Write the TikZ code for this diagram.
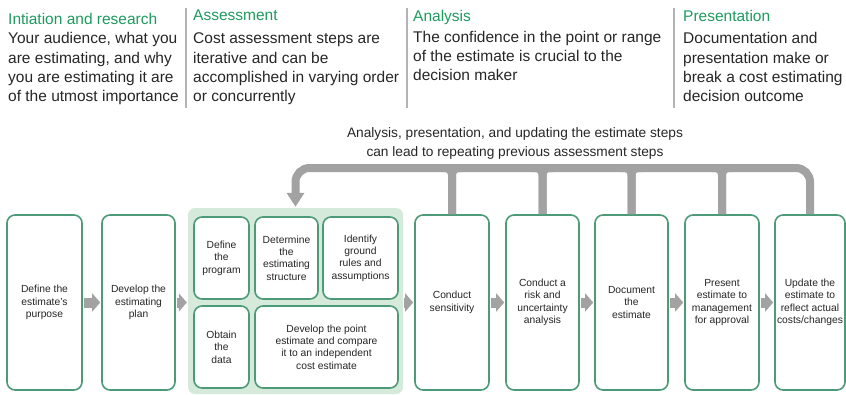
\documentclass[tikz,border=0pt]{standalone}
\usepackage{fontspec}
\setmainfont{Liberation Sans}
\usetikzlibrary{arrows.meta,calc}
\definecolor{hdgreen}{HTML}{1E9A5E}
\definecolor{boxgreen}{HTML}{4C9A78}
\definecolor{areagreen}{HTML}{D5EADB}
\definecolor{arrowgray}{HTML}{A2A2A2}
\definecolor{rulegray}{HTML}{B4B4B4}
\definecolor{ink}{HTML}{262626}
\begin{document}
\begin{tikzpicture}[x=1pt,y=-1pt,
  head/.style={anchor=north west, inner sep=0pt, text=hdgreen,
    font=\fontsize{15.5}{19.3}\selectfont},
  body/.style={anchor=north west, inner sep=0pt, text=ink, align=left,
    font=\fontsize{15.5}{19.3}\selectfont},
  note/.style={anchor=north, inner sep=0pt, text=ink, align=center,
    font=\fontsize{13.7}{19}\selectfont},
  stepbox/.style={draw=boxgreen, line width=1.6pt, rounded corners=8pt, fill=white,
    align=center, inner sep=0pt, text=ink, font=\fontsize{10.3}{12.4}\selectfont,
    minimum height=175pt},
  subbox/.style={stepbox, minimum height=82pt},
  area/.style={fill=areagreen, rounded corners=7pt, inner sep=0pt},
  flow/.style={draw=arrowgray, line width=10pt, shorten <=1pt, shorten >=1pt,
    -{Triangle[length=8pt,width=18pt]}},
  loopline/.style={draw=arrowgray, line width=8pt},
  divider/.style={draw=rulegray, line width=2pt}
]
\useasboundingbox (0,0) rectangle (846,394);

% column dividers
\draw[divider] (186,8) -- (186,108);
\draw[divider] (407,8) -- (407,108);
\draw[divider] (674,8) -- (674,108);

% phase headers and descriptions
\node[head] (h1) at (8,10.5) {\strut Intiation and research};
\node[body] (t1) at (8,30) {\strut Your audience, what you\\are estimating, and why\\you are estimating it are\\of the utmost importance};
\node[head] (h2) at (193,6.5) {\strut Assessment};
\node[body] (t2) at (193,30) {\strut Cost assessment steps are\\iterative and can be\\accomplished in varying order\\or concurrently};
\node[head] (h3) at (413,7.5) {\strut Analysis};
\node[body] (t3) at (413,28.5) {\strut The confidence in the point or range\\of the estimate is crucial to the\\decision maker};
\node[head] (h4) at (683,7.5) {\strut Presentation};
\node[body] (t4) at (683,30) {\strut Documentation and\\presentation make or\\break a cost estimating\\decision outcome};

\node[note] (fb) at (515,124) {\strut Analysis, presentation, and updating the estimate steps\\can lead to repeating previous assessment steps};

% process steps
\node[stepbox, minimum width=75pt] (b1) at (44.5,302.5) {Define the\\estimate's\\purpose};
\node[stepbox, minimum width=73pt] (b2) at (138.5,302.5) {Develop the\\estimating\\plan};

\node[area, minimum width=215pt, minimum height=186pt] (asmt) at (295.5,301) {};
\node[subbox, minimum width=55pt] (dp) at (221.5,258) {Define\\the\\program};
\node[subbox, minimum width=63pt] (ds) at (286.5,258) {Determine\\the\\estimating\\structure};
\node[subbox, minimum width=75pt] (gr) at (360.5,258) {Identify\\ground\\rules and\\assumptions};
\node[subbox, minimum width=55pt] (od) at (221.5,347) {Obtain\\the\\data};
\node[subbox, minimum width=143pt] (pe) at (326.5,347) {Develop the point\\estimate and compare\\it to an independent\\cost estimate};

\node[stepbox, minimum width=74pt] (b3) at (452,302.5) {Conduct\\sensitivity};
\node[stepbox, minimum width=73pt] (b4) at (542.5,302.5) {Conduct a\\risk and\\uncertainty\\analysis};
\node[stepbox, minimum width=73pt] (b5) at (631.5,302.5) {Document\\the\\estimate};
\node[stepbox, minimum width=74pt] (b6) at (722,302.5) {Present\\estimate to\\management\\for approval};
\node[stepbox, minimum width=70pt] (b7) at (810,302.5) {Update the\\estimate to\\reflect actual\\costs/changes};

% forward flow
\draw[flow] (b1.east) -- (b2.west);
\draw[flow] (b2.east) -- (b2.east -| asmt.west);
\draw[flow] (asmt.east |- b3.west) -- (b3.west);
\draw[flow] (b3.east) -- (b4.west);
\draw[flow] (b4.east) -- (b5.west);
\draw[flow] (b5.east) -- (b6.west);
\draw[flow] (b6.east) -- (b7.west);

% feedback loop back to assessment
\coordinate (band) at (0,168);
\draw[loopline, rounded corners=14pt, shorten >=1pt, -{Triangle[length=14pt,width=17pt]}]
  (b7.north) |- (asmt.north |- band) -- (asmt.north);
\foreach \b in {b3,b4,b5,b6} {
  \draw[loopline, rounded corners=7pt] ($(\b.north |- band)+(-11,0)$) -| (\b.north);
  \draw[loopline, rounded corners=7pt] ($(\b.north |- band)+(11,0)$) -| (\b.north);
}
\end{tikzpicture}
\end{document}
